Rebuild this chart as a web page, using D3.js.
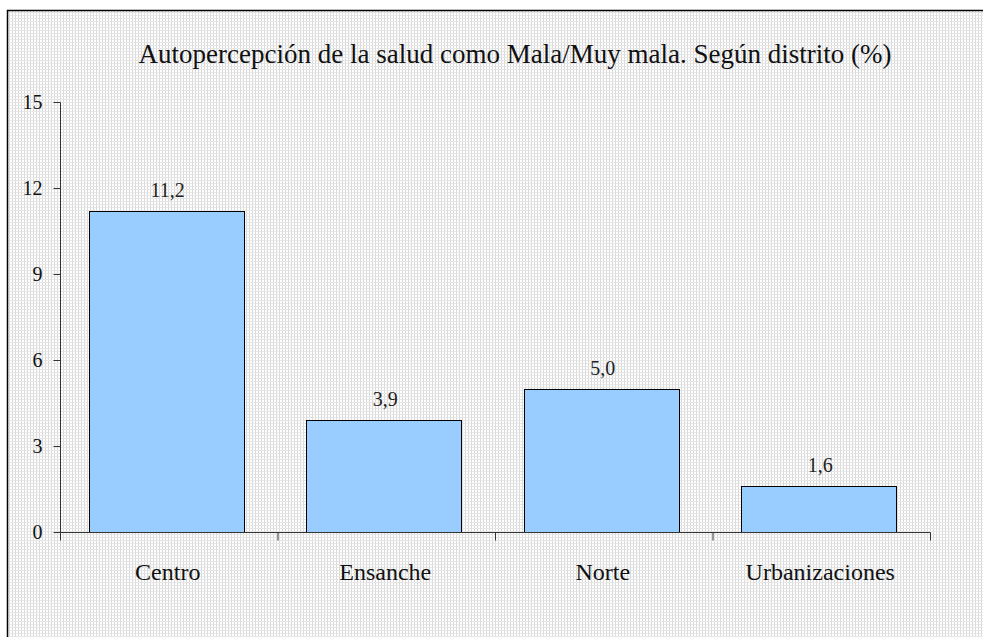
<!DOCTYPE html>
<html><head><meta charset="utf-8">
<script src="https://cdn.jsdelivr.net/npm/d3@7"></script>
<style>body{margin:0;background:#fff}svg{display:block}
svg text{font-family:"Liberation Serif","Times New Roman",Times,serif}</style>
</head><body>
<script>
const categories = ["Centro", "Ensanche", "Norte", "Urbanizaciones"];
const values = [11.2, 3.9, 5.0, 1.6];
const yTicks = [0, 3, 6, 9, 12, 15];
const title = "Autopercepción de la salud como Mala/Muy mala. Según distrito (%)";

const W = 983, H = 637;
const svg = d3.select("body").append("svg").attr("width", W).attr("height", H);
const defs = svg.append("defs");
const pat = defs.append("pattern").attr("id", "dots").attr("patternUnits", "userSpaceOnUse")
  .attr("width", 3).attr("height", 3);
pat.append("rect").attr("width", 3).attr("height", 3).attr("fill", "#ffffff");
pat.append("rect").attr("x", 0).attr("y", 0).attr("width", 1).attr("height", 3).attr("fill", "#d8d8d8");
pat.append("rect").attr("x", 0).attr("y", 0).attr("width", 3).attr("height", 1).attr("fill", "#e6e6e6");

svg.append("rect").attr("x", 7.5).attr("y", 10.5).attr("width", W + 20).attr("height", H + 20)
  .attr("fill", "url(#dots)").attr("stroke", "#000").attr("stroke-width", 1.5);

const x = d3.scaleBand().domain(categories).range([60, 930]).paddingInner(0.285).paddingOuter(0.1425);
const xb = d3.scaleLinear().domain([0, categories.length]).range([60, 930]);
const y = d3.scaleLinear().domain([0, 15]).range([532, 102]);

svg.append("text").attr("x", 515).attr("y", 63).attr("text-anchor", "middle")
  .attr("font-size", 27).attr("fill", "#111").text(title);

// bars
svg.selectAll("rect.bar").data(values).join("rect").attr("class", "bar")
  .attr("x", (d, i) => Math.round(x(categories[i])) - 1.5).attr("y", d => Math.round(y(d)) + 0.5)
  .attr("width", 155).attr("height", d => y(0) - Math.round(y(d)))
  .attr("fill", "#99ccff").attr("stroke", "#000").attr("stroke-width", 1);

svg.selectAll("text.val").data(values).join("text").attr("class", "val")
  .attr("x", (d, i) => x(categories[i]) + x.bandwidth() / 2 - 1).attr("y", d => y(d) - 14)
  .attr("text-anchor", "middle").attr("font-size", 20).attr("fill", "#222")
  .text(d => d.toFixed(1).replace(".", ","));

// y axis
const ya = svg.append("g").attr("transform", "translate(60.5,0)")
  .call(d3.axisLeft(y).tickValues(yTicks).tickSize(7).tickPadding(11));
// x axis
const xa = svg.append("g").attr("transform", "translate(0,532.5)")
  .call(d3.axisBottom(xb).tickValues(d3.range(categories.length + 1)).tickSize(8).tickFormat(""));
svg.selectAll(".domain").attr("stroke", "#333");
svg.selectAll(".tick line").attr("stroke", "#333");
xa.select(".domain").attr("d", "M60,0H930.5");
ya.select(".domain").attr("d", "M0,102.5V532");
ya.selectAll("text").attr("font-size", 20).attr("fill", "#111");
ya.attr("font-family", null); xa.attr("font-family", null);

svg.selectAll("text.cat").data(categories).join("text").attr("class", "cat")
  .attr("x", d => x(d) + x.bandwidth() / 2 - 1).attr("y", 580).attr("text-anchor", "middle")
  .attr("font-size", 24).attr("fill", "#111").text(d => d);
</script>
</body></html>
